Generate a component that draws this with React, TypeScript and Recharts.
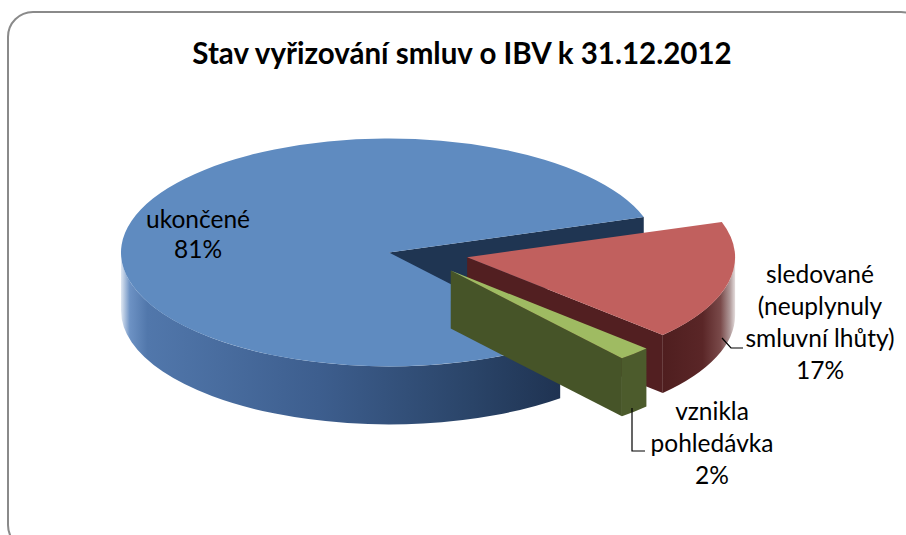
import { PieChart, Pie } from 'recharts'

// Stav vyřizování smluv o IBV k 31.12.2012 – 3D exploded pie, drawn as ellipse slices
const categories = ['ukončené', 'sledované (neuplynuly smluvní lhůty)', 'vznikla pohledávka']
const categoryLines = [['ukončené'], ['sledované', '(neuplynuly', 'smluvní lhůty)'], ['vznikla', 'pohledávka']]
const shares = [81, 17, 2]

const data = categories.map((name, idx) => ({ name, value: shares[idx], idx }))

const TOP = ['#5f8bc0', '#c1605e', '#9fbb62']
const SIDE = ['#1f3552', '#521f21', '#465428']
const WALL_STOPS: [number, string][][] = [
  [[0, '#dfe7f2'], [0.02, '#6d92c4'], [0.06, '#5177ab'], [0.45, '#3d5e8e'], [0.8, '#2a4468'], [1, '#1f3352']],
  [[0, '#4f1e1f'], [0.55, '#5a2627'], [0.8, '#7a4a4a'], [0.93, '#b09a9a'], [1, '#e4dcdc']],
  [[0, '#4c5b2c'], [1, '#4c5b2c']],
]
const EXPLODE = [0, 80, 90]
const TILT = 0.425
const DEPTH = 58
const RAD = Math.PI / 180

const LABEL_AT = [{ x: 198, y: 228 }, { x: 820, y: 283 }, { x: 712, y: 420 }]
const LINE_GAP = [30, 32, 32]
const LEADERS: number[][][] = [[], [[722, 338], [731, 348], [743, 348]], [[632, 408], [632, 451], [645, 451]]]

const FONT = 'Lato, "Open Sans", sans-serif'

function slicePath(props: any) {
  const { cx, cy, outerRadius: rx, startAngle: s, endAngle: t, midAngle } = props
  const idx = props.idx ?? props.payload?.idx ?? 0
  const ry = rx * TILT
  const e = EXPLODE[idx]
  const ox = cx + e * Math.cos(midAngle * RAD)
  const oy = cy - e * TILT * 0.65 * Math.sin(midAngle * RAD)
  const pt = (a: number, dz = 0) => `${ox + rx * Math.cos(a * RAD)},${oy - ry * Math.sin(a * RAD) + dz}`
  const px = (a: number) => ox + rx * Math.cos(a * RAD)

  // radial cut faces that face the viewer
  const faces: string[] = []
  if (Math.cos(t * RAD) > 0) faces.push(`M${ox},${oy} L${pt(t)} L${pt(t, DEPTH)} L${ox},${oy + DEPTH} Z`)
  if (Math.cos(s * RAD) < 0) faces.push(`M${ox},${oy} L${pt(s)} L${pt(s, DEPTH)} L${ox},${oy + DEPTH} Z`)

  // outer wall, front half only
  const walls: { d: string; x1: number; x2: number }[] = []
  for (let k = -2; k <= 1; k++) {
    const hi = Math.min(s, 360 * k)
    const lo = Math.max(t, 360 * k - 180)
    if (hi - lo > 0.01) {
      walls.push({
        d: `M${pt(hi)} A${rx},${ry} 0 0 1 ${pt(lo)} L${pt(lo, DEPTH)} A${rx},${ry} 0 0 0 ${pt(hi, DEPTH)} Z`,
        x1: Math.min(px(hi), px(lo)),
        x2: Math.max(px(hi), px(lo)),
      })
    }
  }

  const large = s - t > 180 ? 1 : 0
  const top = `M${ox},${oy} L${pt(s)} A${rx},${ry} 0 ${large} 1 ${pt(t)} Z`

  return (
    <g>
      <defs>
        {walls.map((w, i) => (
          <linearGradient key={i} id={`wall-${idx}-${i}`} gradientUnits="userSpaceOnUse" x1={w.x1} x2={w.x2} y1={0} y2={0}>
            {WALL_STOPS[idx].map(([o, c]) => <stop key={o} offset={o} stopColor={c} />)}
          </linearGradient>
        ))}
      </defs>
      {faces.map((d, i) => <path key={`f${i}`} d={d} fill={SIDE[idx]} />)}
      {walls.map((w, i) => <path key={`w${i}`} d={w.d} fill={`url(#wall-${idx}-${i})`} />)}
      <path d={top} fill={TOP[idx]} />
    </g>
  )
}

function renderLabel(props: any) {
  const idx = props.idx ?? props.payload?.idx ?? props.index ?? 0
  const at = LABEL_AT[idx]
  const lines = [...categoryLines[idx], `${shares[idx]}%`]
  const leader = LEADERS[idx]
  return (
    <g key={`lbl-${idx}`}>
      {leader.length > 0 && (
        <polyline points={leader.map((p) => p.join(',')).join(' ')} fill="none" stroke="#000" strokeWidth={1.2} />
      )}
      <text x={at.x} y={at.y} textAnchor="middle" fontFamily={FONT} fontSize={24.5} fill="#000">
        {lines.map((l, i) => (
          <tspan key={i} x={at.x} dy={i === 0 ? 0 : LINE_GAP[idx]}>{l}</tspan>
        ))}
      </text>
    </g>
  )
}

export default function App() {
  return (
    <div style={{ position: 'absolute', left: 0, top: 0, width: 906, height: 535, overflow: 'hidden', background: '#fff' }}>
      <div
        style={{
          position: 'absolute', left: 7, top: 11, width: 920, height: 540,
          border: '2px solid #8a8a8a', borderRadius: 26, boxSizing: 'border-box',
        }}
      />
      <div
        style={{
          position: 'absolute', left: 0, top: 35, width: 924, textAlign: 'center',
          fontFamily: FONT, fontWeight: 700, fontSize: 29.5, lineHeight: '36px', color: '#000',
        }}
      >
        Stav vyřizování smluv o IBV k 31.12.2012
      </div>
      <div style={{ position: 'absolute', left: 0, top: 0 }}>
        <PieChart width={906} height={535}>
          <Pie
            data={data}
            dataKey="value"
            nameKey="name"
            cx={384}
            cy={247.5}
            outerRadius={268}
            startAngle={-50.3}
            endAngle={-410.3}
            stroke="none"
            shape={slicePath}
            label={renderLabel}
            labelLine={false}
            isAnimationActive={false}
          />
        </PieChart>
      </div>
    </div>
  )
}
